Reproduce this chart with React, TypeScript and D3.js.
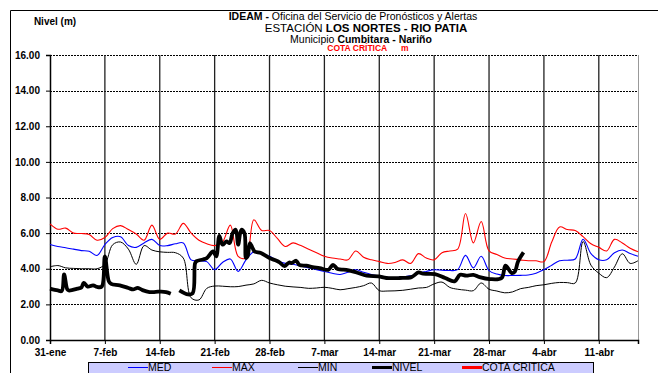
import { useEffect, useRef } from "react";
import * as d3 from "d3";

// eje x: dias desde el 31-ene
const tickLabels = ["31-ene", "7-feb", "14-feb", "21-feb", "28-feb", "7-mar", "14-mar", "21-mar", "28-mar", "4-abr", "11-abr"];
const yTicks = [0, 2, 4, 6, 8, 10, 12, 14, 16];

// valores diarios (dia 0..75)
const maxValues = [
  6.52, 6.22, 6.28, 6.0, 5.98, 5.92, 5.6, 5.75, 6.25, 6.42,
  6.2, 5.95, 5.6, 6.45, 5.65, 6.0, 5.95, 6.55, 6.0, 5.6,
  5.4, 5.3, 5.5, 6.45, 4.7, 4.6, 6.75, 6.15, 6.15, 5.7,
  5.25, 5.45, 5.3, 5.1, 4.9, 4.7, 4.6, 4.55, 4.5, 5.0,
  4.65, 4.5, 4.4, 4.3, 4.35, 4.5, 4.3, 4.85, 4.6, 4.5,
  4.9, 5.0, 5.1, 7.1, 5.45, 6.65, 5.0, 4.8, 4.6, 4.55,
  4.5, 4.45, 4.45, 4.4, 5.5, 6.35, 6.2, 6.15, 5.8, 5.4,
  5.2, 5.0, 5.65, 5.45, 5.15, 4.95,
];
const medValues = [
  5.36, 5.25, 5.18, 5.1, 5.02, 4.98, 4.75, 5.36, 5.75, 5.8,
  5.3, 5.2, 5.45, 5.65, 5.3, 5.3, 5.4, 5.45, 4.5, 4.45,
  4.4, 3.95, 4.35, 4.55, 3.85, 4.5, 4.95, 4.85, 4.7, 4.45,
  4.3, 4.25, 4.15, 4.05, 3.95, 3.85, 3.75, 3.68, 3.8, 3.94,
  3.8, 3.68, 3.6, 3.52, 3.5, 3.55, 3.6, 3.75, 3.85, 3.94,
  3.92, 3.9, 3.95, 4.75, 4.05, 4.7, 3.9, 3.7, 3.62, 3.62,
  3.63, 3.65, 3.75, 3.95, 4.2, 4.45, 4.48, 4.55, 5.66, 4.85,
  4.5, 4.5, 4.9, 5.05, 4.85, 4.7,
];
const minValues = [
  4.11, 4.18, 4.05, 4.02, 4.0, 4.0, 4.0, 4.25, 5.35, 5.5,
  5.1, 4.25, 5.3, 5.05, 4.95, 4.92, 4.9, 4.6, 2.37, 2.25,
  2.9, 3.03, 3.02, 2.99, 3.0, 3.08, 3.15, 3.35, 3.2, 3.1,
  3.02, 2.98, 2.95, 2.9, 2.92, 2.96, 2.9, 2.82, 2.88, 2.95,
  3.05, 3.2, 2.77, 2.75, 2.76, 2.79, 2.85, 2.92, 2.95, 3.15,
  3.25, 2.95, 2.85, 2.8, 2.77, 3.2, 2.85, 2.75, 2.65, 2.7,
  2.88, 2.95, 3.05, 3.1, 3.18, 3.23, 3.22, 3.2, 5.53, 4.2,
  3.75, 3.5, 4.1, 4.84, 4.3, 4.45,
];

// nivel observado (dia, valor); null = sin dato
const nivelDays = [
  0, 1, 1.5, 1.8, 2.2, 2.4, 3.5, 4.0, 4.3, 4.8, 5.5, 6.0, 6.6, 7.0, 7.5, 7.8, 8.9, 10.0, 10.6, 11.2,
  11.8, 12.7, 13.5, 14.2, 14.8, 15.4, 16.0, 16.5, 17.6, 18.2, 18.5, 18.7, 19.5, 20.0, 20.8, 21.2, 21.6, 22.0, 22.5, 22.9,
  23.3, 23.7, 24.0, 24.4, 24.8, 25.0, 25.2, 25.5, 25.8, 26.1, 26.9, 28.0, 28.9, 29.3, 29.9, 30.5, 30.8, 31.4, 31.8, 32.7,
  33.5, 34.4, 35.5, 36.1, 36.7, 37.8, 39.1, 40.4, 41.9, 42.9, 44.6, 46.1, 47.0, 47.6, 49.1, 50.4, 51.6, 52.3, 53.1, 54.0,
  54.8, 56.1, 57.6, 58.1, 58.9, 59.3, 59.7, 60.4,
];
const nivelValues: (number | null)[] = [
  2.88, 2.78, 2.75, 3.68, 2.85, 2.78, 2.88, 2.95, 3.21, 3.0, 3.07, 2.98, 3.0, 4.7, 3.3, 3.15, 3.07, 2.92, 2.84, 2.93,
  2.8, 2.69, 2.7, 2.72, 2.69, 2.6, null, 2.79, 2.56, 2.62, 4.3, 4.43, 4.52, 4.6, 4.97, 4.69, 5.85, 5.35, 5.53, 5.44,
  6.0, 6.19, 5.35, 6.19, 6.0, 4.6, 4.69, 5.44, 5.2, 4.97, 4.88, 4.6, 4.45, 4.35, 4.15, 4.35, 4.32, 4.45, 4.22, 4.17,
  4.09, 4.04, 3.94, 4.22, 3.98, 3.94, 3.79, 3.61, 3.57, 3.48, 3.48, 3.53, 3.79, 3.72, 3.7, 3.48, 3.29, 3.66, 3.61, 3.66,
  3.53, 3.42, 3.48, 4.17, 3.76, 3.85, 4.41, 4.92,
];

const legendItems = [
  { name: "MED", color: "#0000ff", width: 1 },
  { name: "MAX", color: "#ff0000", width: 1 },
  { name: "MIN", color: "#000000", width: 1 },
  { name: "NIVEL", color: "#000000", width: 3 },
  { name: "COTA CRITICA", color: "#ff0000", width: 3 },
];

const FONT = "'Liberation Sans', Arial, sans-serif";

export default function App() {
  const svgRef = useRef<SVGSVGElement>(null);

  useEffect(() => {
    const svg = svgRef.current;
    if (!svg) return;
    d3.select(svg).selectAll("*").remove();

    const width = 658;
    const height = 373;
    const left = 50, right = 638, top = 55, bottom = 340;

    const x = d3.scaleLinear().domain([0, 75]).range([left, right]);
    const y = d3.scaleLinear().domain([0, 16]).range([bottom, top]);

    const s = d3.select(svg).attr("width", width).attr("height", height).style("font-family", FONT);

    s.append("rect").attr("width", width).attr("height", height).attr("fill", "#fff");

    // marco exterior
    s.append("path")
      .attr("d", `M10.5,${height} V10.5 H${width}`)
      .attr("fill", "none")
      .attr("stroke", "#000")
      .attr("stroke-width", 1);

    // titulos
    const titles = s.append("g").attr("text-anchor", "middle").attr("font-size", 10.5);
    const t1 = titles.append("text").attr("x", 353).attr("y", 20);
    t1.append("tspan").attr("font-weight", "bold").text("IDEAM -");
    t1.append("tspan").text(" Oficina  del Servicio de Pronósticos  y Alertas");
    const t2 = titles.append("text").attr("x", 366).attr("y", 31.5).attr("font-size", 11.5);
    t2.append("tspan").text("ESTACIÓN  ");
    t2.append("tspan").attr("font-weight", "bold").text("LOS NORTES - RIO PATIA");
    const t3 = titles.append("text").attr("x", 361).attr("y", 42.5);
    t3.append("tspan").text("Municipio ");
    t3.append("tspan").attr("font-weight", "bold").text("Cumbitara - Nariño");
    titles.append("text")
      .attr("x", 368)
      .attr("y", 51)
      .attr("font-size", 8.5)
      .attr("font-weight", "bold")
      .attr("fill", "#ff0000")
      .attr("xml:space", "preserve")
      .text("COTA CRÍTICA      m");

    s.append("text")
      .attr("x", 55)
      .attr("y", 24.5)
      .attr("text-anchor", "middle")
      .attr("font-size", 10)
      .attr("font-weight", "bold")
      .text("Nivel (m)");

    // rejilla horizontal punteada
    s.append("g")
      .selectAll("line")
      .data(yTicks.slice(1))
      .join("line")
      .attr("x1", left)
      .attr("x2", right)
      .attr("y1", (d) => Math.round(y(d)) + 0.5)
      .attr("y2", (d) => Math.round(y(d)) + 0.5)
      .attr("stroke", "#000")
      .attr("stroke-width", 1)
      .attr("stroke-dasharray", "2,1");

    // lineas verticales semanales
    s.append("g")
      .selectAll("line")
      .data(tickLabels.map((_, i) => i * 7).slice(1))
      .join("line")
      .attr("x1", (d) => x(d))
      .attr("x2", (d) => x(d))
      .attr("y1", top)
      .attr("y2", bottom)
      .attr("stroke", "#222")
      .attr("stroke-width", 1.3);

    // borde derecho
    s.append("line")
      .attr("x1", right + 0.5)
      .attr("x2", right + 0.5)
      .attr("y1", top)
      .attr("y2", bottom)
      .attr("stroke", "#999")
      .attr("stroke-width", 1);

    // ejes
    const yAxis = s.append("g")
      .attr("transform", `translate(${left},0)`)
      .call(d3.axisLeft(y).tickValues(yTicks).tickSize(4).tickFormat((d) => d3.format(".2f")(d as number)));
    yAxis.select(".domain").attr("stroke", "#000").attr("stroke-width", 1.5);
    yAxis.selectAll("text")
      .attr("font-size", 10)
      .attr("font-weight", "bold")
      .attr("font-family", FONT)
      .attr("x", -10)
      .attr("fill", "#000");

    const xAxis = s.append("g")
      .attr("transform", `translate(0,${bottom})`)
      .call(
        d3.axisBottom(x)
          .tickValues(tickLabels.map((_, i) => i * 7))
          .tickSize(4)
          .tickFormat((_, i) => tickLabels[i])
      );
    xAxis.select(".domain").attr("stroke", "#000").attr("stroke-width", 1.5);
    xAxis.selectAll("text")
      .attr("font-size", 10)
      .attr("font-weight", "bold")
      .attr("font-family", FONT)
      .attr("dy", "0.9em")
      .attr("fill", "#000");

    // series
    const daily = (vals: number[]) => vals.map((v, i) => [i, v] as [number, number]);
    const smooth = d3.line<[number, number]>()
      .x((d) => x(d[0]))
      .y((d) => y(d[1]))
      .curve(d3.curveCatmullRom.alpha(0.5));

    const series = [
      { vals: minValues, color: "#000000", w: 1 },
      { vals: maxValues, color: "#ff0000", w: 1.1 },
      { vals: medValues, color: "#0000ff", w: 1.1 },
    ];
    series.forEach((ser) => {
      s.append("path")
        .attr("d", smooth(daily(ser.vals)))
        .attr("fill", "none")
        .attr("stroke", ser.color)
        .attr("stroke-width", ser.w);
    });

    const nivelLine = d3.line<[number, number | null]>()
      .defined((d) => d[1] !== null)
      .x((d) => x(d[0]))
      .y((d) => y(d[1] as number))
      .curve(d3.curveCatmullRom.alpha(0.5));
    s.append("path")
      .attr("d", nivelLine(nivelDays.map((d, i) => [d, nivelValues[i]] as [number, number | null])))
      .attr("fill", "none")
      .attr("stroke", "#000")
      .attr("stroke-width", 3.8)
      .attr("stroke-linejoin", "round");

    // leyenda
    s.append("rect")
      .attr("x", 88.5)
      .attr("y", 362.5)
      .attr("width", 505)
      .attr("height", 20)
      .attr("fill", "#ccccff")
      .attr("stroke", "#000");
    const legendX = [128, 212, 298, 372, 462];
    const lg = s.append("g");
    legendItems.forEach((item, i) => {
      lg.append("line")
        .attr("x1", legendX[i])
        .attr("x2", legendX[i] + 20)
        .attr("y1", 367.5)
        .attr("y2", 367.5)
        .attr("stroke", item.color)
        .attr("stroke-width", item.width);
      lg.append("text")
        .attr("x", legendX[i] + 20)
        .attr("y", 371)
        .attr("font-size", 10.5)
        .text(item.name);
    });
  }, []);

  return (
    <div style={{ position: "absolute", left: 0, top: 0 }}>
      <svg ref={svgRef} style={{ display: "block" }} />
    </div>
  );
}
